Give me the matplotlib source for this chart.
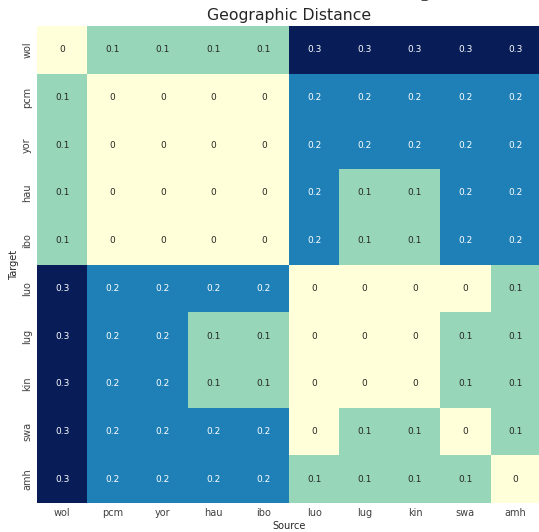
import matplotlib
matplotlib.use("Agg")
import matplotlib.pyplot as plt
import seaborn as sns
import numpy as np
import pandas as pd

# languages (rows = target, columns = source)
langs = ['wol', 'pcm', 'yor', 'hau', 'ibo', 'luo', 'lug', 'kin', 'swa', 'amh']

# geographic distance, one row per target language
wol = [0.0, 0.1, 0.1, 0.1, 0.1, 0.3, 0.3, 0.3, 0.3, 0.3]
pcm = [0.1, 0.0, 0.0, 0.0, 0.0, 0.2, 0.2, 0.2, 0.2, 0.2]
yor = [0.1, 0.0, 0.0, 0.0, 0.0, 0.2, 0.2, 0.2, 0.2, 0.2]
hau = [0.1, 0.0, 0.0, 0.0, 0.0, 0.2, 0.1, 0.1, 0.2, 0.2]
ibo = [0.1, 0.0, 0.0, 0.0, 0.0, 0.2, 0.1, 0.1, 0.2, 0.2]
luo = [0.3, 0.2, 0.2, 0.2, 0.2, 0.0, 0.0, 0.0, 0.0, 0.1]
lug = [0.3, 0.2, 0.2, 0.1, 0.1, 0.0, 0.0, 0.0, 0.1, 0.1]
kin = [0.3, 0.2, 0.2, 0.1, 0.1, 0.0, 0.0, 0.0, 0.1, 0.1]
swa = [0.3, 0.2, 0.2, 0.2, 0.2, 0.0, 0.1, 0.1, 0.0, 0.1]
amh = [0.3, 0.2, 0.2, 0.2, 0.2, 0.1, 0.1, 0.1, 0.1, 0.0]

dist = pd.DataFrame([wol, pcm, yor, hau, ibo, luo, lug, kin, swa, amh],
                    index=langs, columns=langs)

sns.set_theme(style="white")

fig = plt.figure(figsize=(5.39, 5.32), dpi=100)
ax = fig.add_axes([0.0686, 0.0545, 0.935, 0.8966])

sns.heatmap(dist, ax=ax, cmap="YlGnBu", vmin=0, vmax=0.3, annot=True,
            fmt="g", cbar=False, annot_kws={"fontsize": 6.5})

ax.set_title("Geographic Distance", fontsize=11.3, color=".15", pad=4)
ax.set_xlabel("Source", fontsize=7, labelpad=2)
ax.set_ylabel("Target", fontsize=7, labelpad=2)
ax.tick_params(axis='both', labelsize=7, length=0, labelcolor='.25')
ax.set_yticklabels(ax.get_yticklabels(), rotation=90, va='center')
ax.set_xticklabels(ax.get_xticklabels(), rotation=0)

# overall heading sits above the axes title
fig.text(0.535, 1.008, "Distances for Transfer Learning", ha='center', va='baseline',
         fontsize=16, family='Liberation Serif')

fig.savefig("out.png", dpi=100)
